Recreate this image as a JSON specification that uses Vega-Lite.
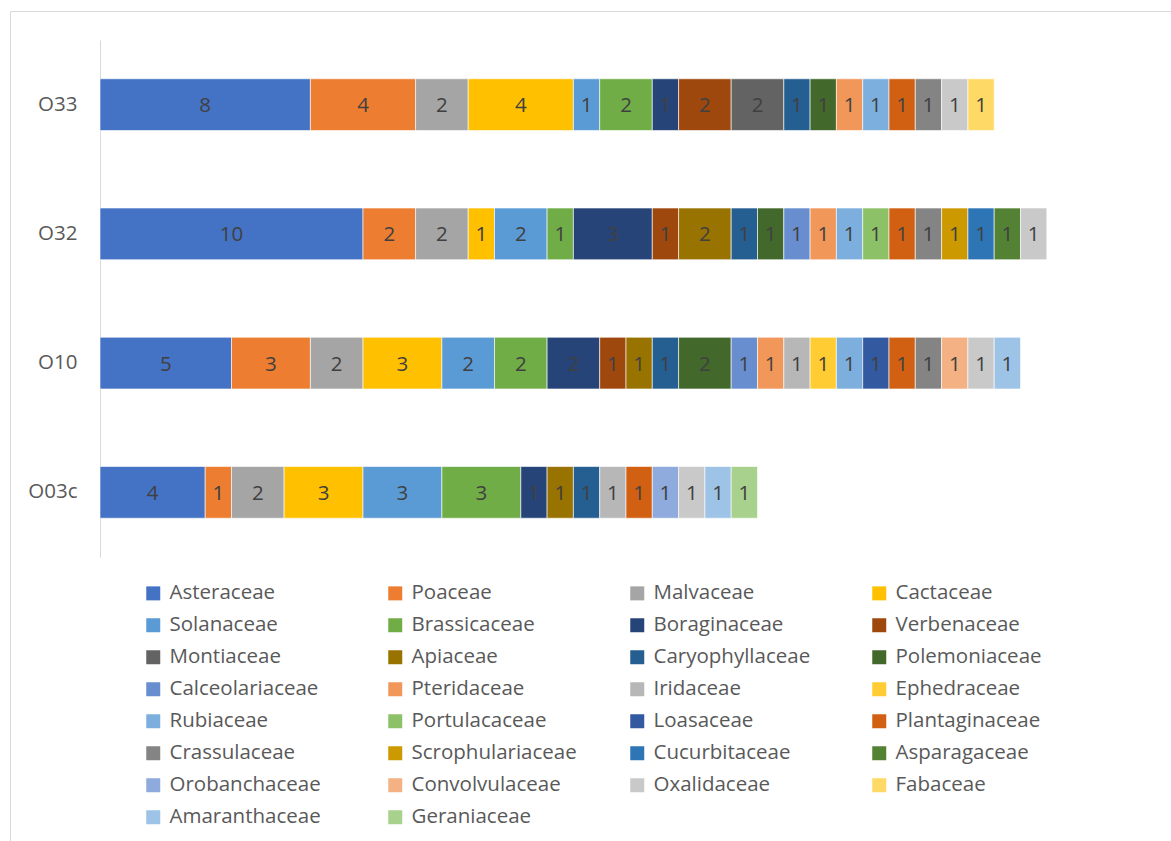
{
  "$schema": "https://vega.github.io/schema/vega-lite/v6.json",
  "width": 1165,
  "height": 835,
  "autosize": {"type": "none"},
  "padding": {"left": 10, "top": 11, "right": 0, "bottom": 0},
  "background": "white",
  "config": {
    "view": {"stroke": "#D9D9D9", "strokeWidth": 1},
    "font": "Open Sans"
  },
  "data": {
    "values": [
      {"site": "O33", "family": "Asteraceae", "idx": 1, "n": 8},
      {"site": "O33", "family": "Poaceae", "idx": 2, "n": 4},
      {"site": "O33", "family": "Malvaceae", "idx": 3, "n": 2},
      {"site": "O33", "family": "Cactaceae", "idx": 4, "n": 4},
      {"site": "O33", "family": "Solanaceae", "idx": 5, "n": 1},
      {"site": "O33", "family": "Brassicaceae", "idx": 6, "n": 2},
      {"site": "O33", "family": "Boraginaceae", "idx": 7, "n": 1},
      {"site": "O33", "family": "Verbenaceae", "idx": 8, "n": 2},
      {"site": "O33", "family": "Montiaceae", "idx": 9, "n": 2},
      {"site": "O33", "family": "Caryophyllaceae", "idx": 11, "n": 1},
      {"site": "O33", "family": "Polemoniaceae", "idx": 12, "n": 1},
      {"site": "O33", "family": "Pteridaceae", "idx": 14, "n": 1},
      {"site": "O33", "family": "Rubiaceae", "idx": 17, "n": 1},
      {"site": "O33", "family": "Plantaginaceae", "idx": 20, "n": 1},
      {"site": "O33", "family": "Crassulaceae", "idx": 21, "n": 1},
      {"site": "O33", "family": "Oxalidaceae", "idx": 27, "n": 1},
      {"site": "O33", "family": "Fabaceae", "idx": 28, "n": 1},

      {"site": "O32", "family": "Asteraceae", "idx": 1, "n": 10},
      {"site": "O32", "family": "Poaceae", "idx": 2, "n": 2},
      {"site": "O32", "family": "Malvaceae", "idx": 3, "n": 2},
      {"site": "O32", "family": "Cactaceae", "idx": 4, "n": 1},
      {"site": "O32", "family": "Solanaceae", "idx": 5, "n": 2},
      {"site": "O32", "family": "Brassicaceae", "idx": 6, "n": 1},
      {"site": "O32", "family": "Boraginaceae", "idx": 7, "n": 3},
      {"site": "O32", "family": "Verbenaceae", "idx": 8, "n": 1},
      {"site": "O32", "family": "Apiaceae", "idx": 10, "n": 2},
      {"site": "O32", "family": "Caryophyllaceae", "idx": 11, "n": 1},
      {"site": "O32", "family": "Polemoniaceae", "idx": 12, "n": 1},
      {"site": "O32", "family": "Calceolariaceae", "idx": 13, "n": 1},
      {"site": "O32", "family": "Pteridaceae", "idx": 14, "n": 1},
      {"site": "O32", "family": "Rubiaceae", "idx": 17, "n": 1},
      {"site": "O32", "family": "Portulacaceae", "idx": 18, "n": 1},
      {"site": "O32", "family": "Plantaginaceae", "idx": 20, "n": 1},
      {"site": "O32", "family": "Crassulaceae", "idx": 21, "n": 1},
      {"site": "O32", "family": "Scrophulariaceae", "idx": 22, "n": 1},
      {"site": "O32", "family": "Cucurbitaceae", "idx": 23, "n": 1},
      {"site": "O32", "family": "Asparagaceae", "idx": 24, "n": 1},
      {"site": "O32", "family": "Oxalidaceae", "idx": 27, "n": 1},

      {"site": "O10", "family": "Asteraceae", "idx": 1, "n": 5},
      {"site": "O10", "family": "Poaceae", "idx": 2, "n": 3},
      {"site": "O10", "family": "Malvaceae", "idx": 3, "n": 2},
      {"site": "O10", "family": "Cactaceae", "idx": 4, "n": 3},
      {"site": "O10", "family": "Solanaceae", "idx": 5, "n": 2},
      {"site": "O10", "family": "Brassicaceae", "idx": 6, "n": 2},
      {"site": "O10", "family": "Boraginaceae", "idx": 7, "n": 2},
      {"site": "O10", "family": "Verbenaceae", "idx": 8, "n": 1},
      {"site": "O10", "family": "Apiaceae", "idx": 10, "n": 1},
      {"site": "O10", "family": "Caryophyllaceae", "idx": 11, "n": 1},
      {"site": "O10", "family": "Polemoniaceae", "idx": 12, "n": 2},
      {"site": "O10", "family": "Calceolariaceae", "idx": 13, "n": 1},
      {"site": "O10", "family": "Pteridaceae", "idx": 14, "n": 1},
      {"site": "O10", "family": "Iridaceae", "idx": 15, "n": 1},
      {"site": "O10", "family": "Ephedraceae", "idx": 16, "n": 1},
      {"site": "O10", "family": "Rubiaceae", "idx": 17, "n": 1},
      {"site": "O10", "family": "Loasaceae", "idx": 19, "n": 1},
      {"site": "O10", "family": "Plantaginaceae", "idx": 20, "n": 1},
      {"site": "O10", "family": "Crassulaceae", "idx": 21, "n": 1},
      {"site": "O10", "family": "Convolvulaceae", "idx": 26, "n": 1},
      {"site": "O10", "family": "Oxalidaceae", "idx": 27, "n": 1},
      {"site": "O10", "family": "Amaranthaceae", "idx": 29, "n": 1},

      {"site": "O03c", "family": "Asteraceae", "idx": 1, "n": 4},
      {"site": "O03c", "family": "Poaceae", "idx": 2, "n": 1},
      {"site": "O03c", "family": "Malvaceae", "idx": 3, "n": 2},
      {"site": "O03c", "family": "Cactaceae", "idx": 4, "n": 3},
      {"site": "O03c", "family": "Solanaceae", "idx": 5, "n": 3},
      {"site": "O03c", "family": "Brassicaceae", "idx": 6, "n": 3},
      {"site": "O03c", "family": "Boraginaceae", "idx": 7, "n": 1},
      {"site": "O03c", "family": "Apiaceae", "idx": 10, "n": 1},
      {"site": "O03c", "family": "Caryophyllaceae", "idx": 11, "n": 1},
      {"site": "O03c", "family": "Iridaceae", "idx": 15, "n": 1},
      {"site": "O03c", "family": "Plantaginaceae", "idx": 20, "n": 1},
      {"site": "O03c", "family": "Orobanchaceae", "idx": 25, "n": 1},
      {"site": "O03c", "family": "Oxalidaceae", "idx": 27, "n": 1},
      {"site": "O03c", "family": "Amaranthaceae", "idx": 29, "n": 1},
      {"site": "O03c", "family": "Geraniaceae", "idx": 30, "n": 1}
    ]
  },
  "encoding": {
    "y": {
      "field": "site",
      "type": "nominal",
      "scale": {"domain": ["O33", "O32", "O10", "O03c"], "range": [29, 546], "paddingInner": 0.6, "paddingOuter": 0.3},
      "axis": {
        "title": null,
        "orient": "left",
        "offset": -90,
        "domainColor": "#D9D9D9",
        "domainWidth": 1,
        "ticks": false,
        "labelFont": "Open Sans",
        "labelFontSize": 20.5,
        "labelColor": "#595959",
        "labelPadding": 23,
        "grid": false
      }
    },
    "order": {"field": "idx", "type": "quantitative", "sort": "ascending"}
  },
  "layer": [
    {
      "mark": {"type": "bar", "stroke": "white", "strokeWidth": 1, "strokeOpacity": 0.6},
      "encoding": {
        "x": {
          "field": "n",
          "type": "quantitative",
          "stack": "zero",
          "scale": {"domain": [0, 40], "range": [90, 1142], "nice": false, "zero": true},
          "axis": null
        },
        "color": {
          "field": "family",
          "type": "nominal",
          "scale": {
            "domain": ["Asteraceae", "Poaceae", "Malvaceae", "Cactaceae", "Solanaceae", "Brassicaceae", "Boraginaceae", "Verbenaceae", "Montiaceae", "Apiaceae", "Caryophyllaceae", "Polemoniaceae", "Calceolariaceae", "Pteridaceae", "Iridaceae", "Ephedraceae", "Rubiaceae", "Portulacaceae", "Loasaceae", "Plantaginaceae", "Crassulaceae", "Scrophulariaceae", "Cucurbitaceae", "Asparagaceae", "Orobanchaceae", "Convolvulaceae", "Oxalidaceae", "Fabaceae", "Amaranthaceae", "Geraniaceae"],
            "range": ["#4472C4", "#ED7D31", "#A5A5A5", "#FFC000", "#5B9BD5", "#70AD47", "#264478", "#9E480E", "#636363", "#997300", "#255E91", "#43682B", "#698ED0", "#F1975A", "#B7B7B7", "#FFCD33", "#7CAFDD", "#8CC168", "#335AA1", "#D26012", "#848484", "#CC9A00", "#2E75B6", "#548235", "#8FAADC", "#F4B183", "#C9C9C9", "#FFD966", "#9DC3E6", "#A9D18E"]
          },
          "legend": {
            "title": null,
            "orient": "none",
            "direction": "horizontal",
            "legendX": 133,
            "legendY": 572,
            "columns": 4,
            "gridAlign": "all",
            "columnPadding": 50,
            "rowPadding": 11,
            "padding": 0,
            "symbolType": "square",
            "symbolSize": 196,
            "symbolStrokeWidth": 0,
            "labelFont": "Open Sans",
            "labelFontSize": 20.5,
            "labelColor": "#595959",
            "labelOffset": 6,
            "labelLimit": 400
          }
        }
      }
    },
    {
      "mark": {"type": "text", "font": "Open Sans", "fontSize": 20.5, "color": "#404040", "align": "center", "baseline": "middle", "dy": 1.5},
      "encoding": {
        "x": {"field": "n", "type": "quantitative", "stack": "zero", "bandPosition": 0.5},
        "text": {"field": "n", "type": "quantitative"}
      }
    }
  ]
}
